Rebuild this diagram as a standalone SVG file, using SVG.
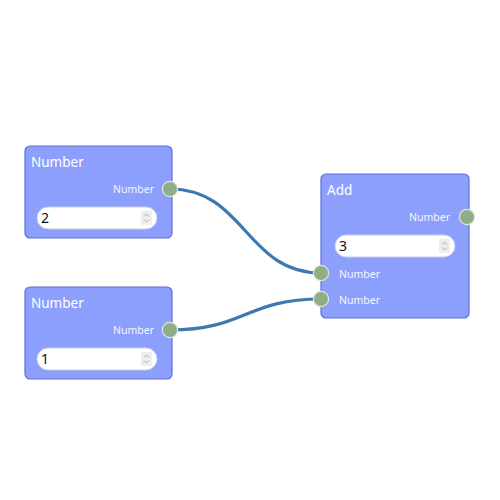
<svg xmlns="http://www.w3.org/2000/svg" width="500" height="500" viewBox="0 0 500 500">
<style>
.node{fill:#8c9ffc;stroke:#5e6fd8;stroke-width:1.2}
.title{font-family:"Noto Sans","Open Sans",sans-serif;font-size:13.5px;fill:#ffffff}
.lbl{font-family:"Noto Sans","Open Sans",sans-serif;font-size:10.5px;fill:#f4f6ff}
.field{fill:#ffffff;stroke:#c8cdf0;stroke-width:1}
.val{font-family:"Noto Sans","Open Sans",sans-serif;font-size:14px;fill:#111111}
.port{fill:#8fad86;stroke:#dfe8d6;stroke-width:1.2}
.edge{fill:none;stroke:#3d79b0;stroke-width:3.2;stroke-linecap:round}
.spin{fill:#eeeeee}
.chev{fill:none;stroke:#999999;stroke-width:0.8}
</style>
<defs>
<g id="spinner">
<rect class="spin" x="0" y="0" width="11" height="14" rx="1"/>
<path class="chev" d="M3 5.5 L5.5 3 L8 5.5 M3 8.5 L5.5 11 L8 8.5"/>
</g>
</defs>
<g id="connectors">
<path class="edge" d="M170 189 C245 189 246 273 321 273"/>
<path class="edge" d="M170 330 C245 330 246 299 321 299"/>
</g>
<g id="node-number-1">
<rect class="node" x="25" y="146" width="147" height="92" rx="5"/>
<text class="title" x="31" y="167">Number</text>
<text class="lbl" x="154" y="193" text-anchor="end">Number</text>
<rect class="field" x="37" y="207" width="120" height="22" rx="11"/>
<text class="val" x="41" y="223">2</text>
<use href="#spinner" x="141" y="211"/>
<circle class="port" cx="170" cy="189" r="7.6"/>
</g>
<g id="node-number-2">
<rect class="node" x="25" y="287" width="147" height="92" rx="5"/>
<text class="title" x="31" y="308">Number</text>
<text class="lbl" x="154" y="334" text-anchor="end">Number</text>
<rect class="field" x="37" y="348" width="120" height="22" rx="11"/>
<text class="val" x="41" y="364">1</text>
<use href="#spinner" x="141" y="352"/>
<circle class="port" cx="170" cy="330" r="7.6"/>
</g>
<g id="node-add">
<rect class="node" x="321" y="174" width="148" height="144" rx="5"/>
<text class="title" x="327" y="195">Add</text>
<text class="lbl" x="450" y="221" text-anchor="end">Number</text>
<rect class="field" x="335" y="235" width="120" height="22" rx="11"/>
<text class="val" x="339" y="251">3</text>
<use href="#spinner" x="439" y="239"/>
<text class="lbl" x="339" y="278">Number</text>
<text class="lbl" x="339" y="304">Number</text>
<circle class="port" cx="467" cy="217" r="7.6"/>
<circle class="port" cx="321" cy="273" r="7.6"/>
<circle class="port" cx="321" cy="299" r="7.6"/>
</g>
</svg>
